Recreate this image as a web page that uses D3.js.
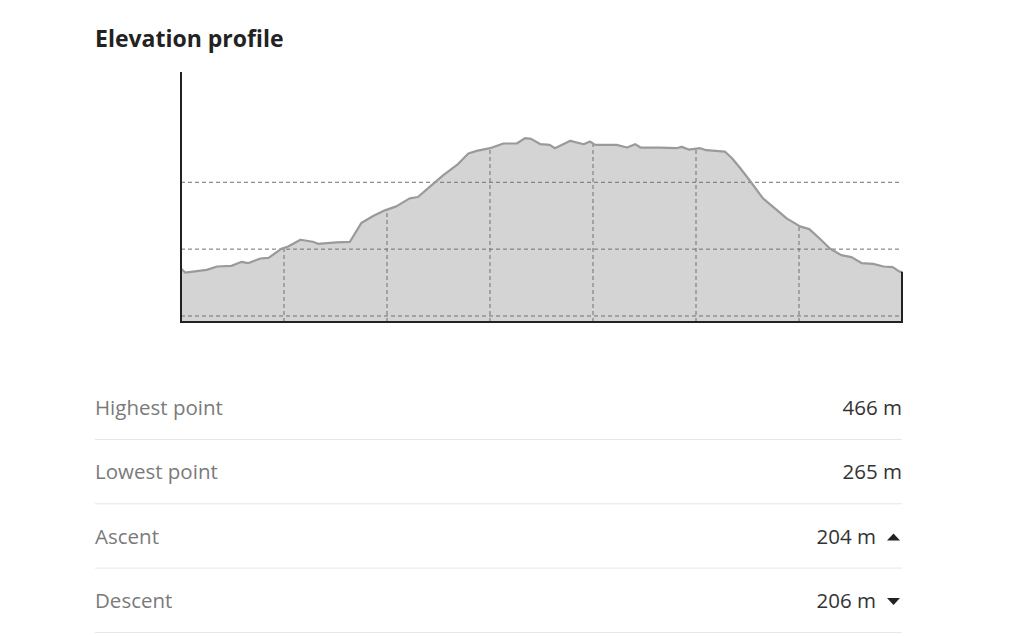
<!DOCTYPE html>
<html><head><meta charset="utf-8">
<script src="https://cdn.jsdelivr.net/npm/d3@7"></script>
<style>
body{margin:0;background:#fff;}
svg{display:block;}
</style></head>
<body>
<svg id="c" width="1024" height="636"></svg>
<script>
// Distance along route (km) and elevation (m)
const distance = [0,0.04,0.25,0.35,0.49,0.59,0.65,0.77,0.85,0.98,1.04,1.16,1.28,1.33,1.51,1.64,1.75,1.87,1.98,2.09,2.22,2.30,2.42,2.55,2.68,2.79,2.87,3.00,3.13,3.26,3.34,3.40,3.49,3.58,3.63,3.78,3.91,3.97,4.02,4.23,4.33,4.41,4.46,4.65,4.81,4.86,4.93,5.04,5.10,5.28,5.35,5.43,5.52,5.65,5.78,5.88,6.01,6.10,6.20,6.30,6.41,6.51,6.61,6.72,6.82,6.91,6.98,7.0];
const elevation = [271,265,269,274,275,281,279,286,287,301,304,314,311,308,310,311,339,350,358,364,376,378,394,411,426,443,447,451,458,458,466,465,457,456,451,462,457,461,456,456,452,457,452,452,451,453,449,451,448,446,436,421,403,376,359,346,334,330,316,301,291,288,279,278,274,273,266,266];
const yGrid = [200,300,400];
const xGrid = [1,2,3,4,5,6];
const statLabels = ["Highest point","Lowest point","Ascent","Descent"];
const statValues = ["466 m","265 m","204 m","206 m"];
const statIcons = [null,null,"up","down"];

const svg = d3.select("#c");
const font = "'Open Sans', sans-serif";

svg.append("text").attr("x",95).attr("y",47)
  .attr("font-family",font).attr("font-weight",700).attr("font-size",23)
  .attr("fill","#222").text("Elevation profile");

const L=181,R=902,T=72,B=322;
const x = d3.scaleLinear().domain([0,7]).range([L,R]);
const y = d3.scaleLinear().domain([191,565]).range([B,T]);
const data = distance.map((d,i)=>({d,e:elevation[i]}));

const area = d3.area().x(p=>x(p.d)).y0(B).y1(p=>y(p.e));
const line = d3.line().x(p=>x(p.d)).y(p=>y(p.e));
svg.append("path").datum(data).attr("d",area).attr("fill","#d4d4d4");

// grid
svg.append("g").selectAll("line").data(yGrid).join("line")
  .attr("x1",L).attr("x2",R).attr("y1",d=>y(d)).attr("y2",d=>y(d))
  .attr("stroke","#707070").attr("stroke-width",1).attr("stroke-dasharray","4,3");
svg.append("g").selectAll("line").data(xGrid).join("line")
  .attr("x1",d=>x(d)).attr("x2",d=>x(d)).attr("y1",B).attr("y2",d=>{
    const e = d3.scaleLinear().domain(distance).range(elevation)(d);
    return y(e);})
  .attr("stroke","#707070").attr("stroke-width",1).attr("stroke-dasharray","4,3");

svg.append("path").datum(data).attr("d",line).attr("fill","none")
  .attr("stroke","#9a9a9a").attr("stroke-width",2.2).attr("stroke-linejoin","round");

// axes
svg.append("line").attr("x1",L).attr("x2",L).attr("y1",T).attr("y2",B+1).attr("stroke","#222").attr("stroke-width",2);
svg.append("line").attr("x1",L).attr("x2",R+1).attr("y1",B).attr("y2",B).attr("stroke","#222").attr("stroke-width",2);
svg.append("line").attr("x1",R).attr("x2",R).attr("y1",y(elevation[elevation.length-1])).attr("y2",B).attr("stroke","#222").attr("stroke-width",2);

// stats table
const rowY = d3.scaleLinear().domain([0,1]).range([415,479.3]);
const rows = svg.append("g").selectAll("g").data(statLabels).join("g")
  .attr("transform",(d,i)=>`translate(0,${rowY(i)})`);
rows.append("text").attr("x",95).attr("font-family",font).attr("font-size",20.5)
  .attr("fill","#7a7a7a").text(d=>d);
rows.append("text").attr("x",(d,i)=>statIcons[i]?876:902).attr("text-anchor","end")
  .attr("font-family",font).attr("font-size",20.5).attr("fill","#333").text((d,i)=>statValues[i]);
rows.append("path").attr("d",(d,i)=>statIcons[i]==="up"?"M887,-3L893.5,-10L900,-3Z":statIcons[i]==="down"?"M887,-10L893.5,-3L900,-10Z":"")
  .attr("fill","#222");
rows.append("line").attr("x1",95).attr("x2",902).attr("y1",24.5).attr("y2",24.5)
  .attr("stroke","#e6e6e6").attr("stroke-width",1);
</script>
</body></html>
